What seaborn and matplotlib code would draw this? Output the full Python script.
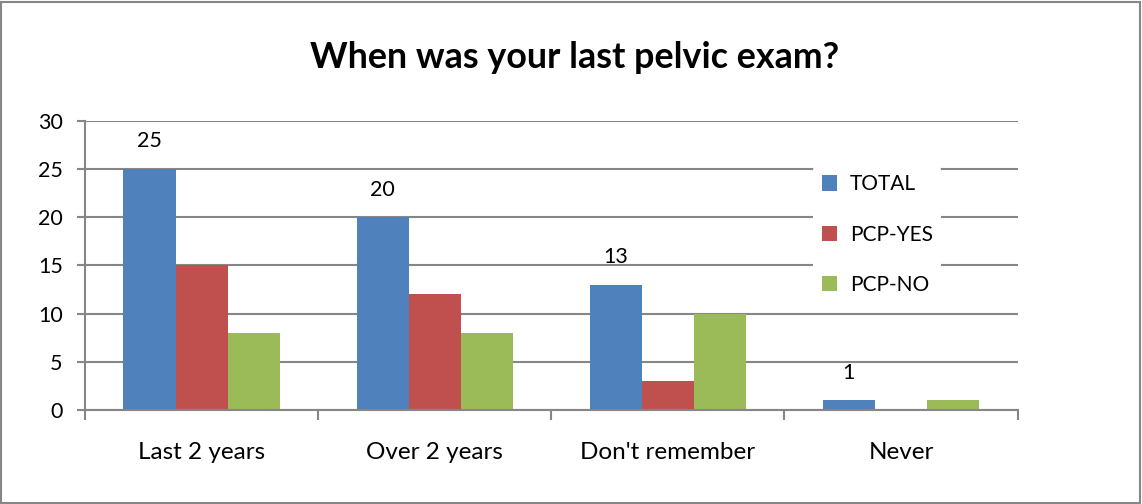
import pandas as pd
import matplotlib.pyplot as plt
import seaborn as sns
from matplotlib.patches import Rectangle
from matplotlib.ticker import FixedLocator

# Dados
categorias = ["Last 2 years", "Over 2 years", "Don't remember", "Never"]
series = ["TOTAL", "PCP-YES", "PCP-NO"]
total = [25, 20, 13, 1]
pcp_yes = [15, 12, 3, 0]
pcp_no = [8, 8, 10, 1]
cores = ["#4F81BD", "#C0504D", "#9BBB59"]

df = pd.DataFrame({
    "categoria": categorias * 3,
    "serie": [s for s in series for _ in categorias],
    "valor": total + pcp_yes + pcp_no,
})

sns.set_theme(style="white")
plt.rcParams['font.family'] = ['Lato', 'DejaVu Sans']
plt.rcParams['text.color'] = 'black'

fig = plt.figure(figsize=(11.42, 5.04), dpi=100)
ax = fig.add_axes([0.0744, 0.1865, 0.8166, 0.5735])

sns.barplot(data=df, x="categoria", y="valor", hue="serie", order=categorias,
            hue_order=series, palette=cores, width=0.67, saturation=1,
            errorbar=None, linewidth=0, ax=ax)

ax.set_xlim(-0.5, 3.5)
ax.set_ylim(0, 30)
ax.set_yticks(range(0, 31, 5))
ax.yaxis.grid(True, color="#868686", linewidth=1.5)
ax.set_axisbelow(True)
ax.set_xlabel("")
ax.set_ylabel("")

for lado in ["top", "right"]:
    ax.spines[lado].set_visible(False)
for lado in ["left", "bottom"]:
    ax.spines[lado].set_color("#868686")
    ax.spines[lado].set_linewidth(1.5)

ax.tick_params(axis="y", left=True, length=6, width=1.5, color="#868686",
               labelsize=15.5, pad=10, labelcolor="black")
ax.tick_params(axis="x", which="major", length=0, labelsize=17.5, pad=23,
               labelcolor="black")
ax.xaxis.set_minor_locator(FixedLocator([-0.5, 0.5, 1.5, 2.5, 3.5]))
ax.tick_params(axis="x", which="minor", bottom=True, length=7, width=1.5,
               color="#868686")

# Rótulos só na série TOTAL
for barra, v in zip(ax.containers[0], total):
    ax.annotate(str(v), (barra.get_x() + barra.get_width() / 2, v),
                xytext=(0, 20), textcoords="offset points",
                ha="center", va="center", fontsize=15.5, color="black")

leg = ax.legend(loc="upper left", bbox_to_anchor=(0.770, 0.88), frameon=True,
                framealpha=1, edgecolor="white", fontsize=15,
                handlelength=0.75, handleheight=0.75, handletextpad=0.6,
                labelspacing=1.45, borderpad=0.4)
leg.get_frame().set_linewidth(0)
for t in leg.get_texts():
    t.set_color("black")

fig.suptitle("When was your last pelvic exam?", x=0.503, y=0.918,
             fontsize=25.8, fontweight="bold", color="black")

fig.patches.append(Rectangle((0.001, 0.002), 0.997, 0.995, transform=fig.transFigure,
                             fill=False, edgecolor="#868686", linewidth=1.5))

fig.savefig("out.png", dpi=100)
